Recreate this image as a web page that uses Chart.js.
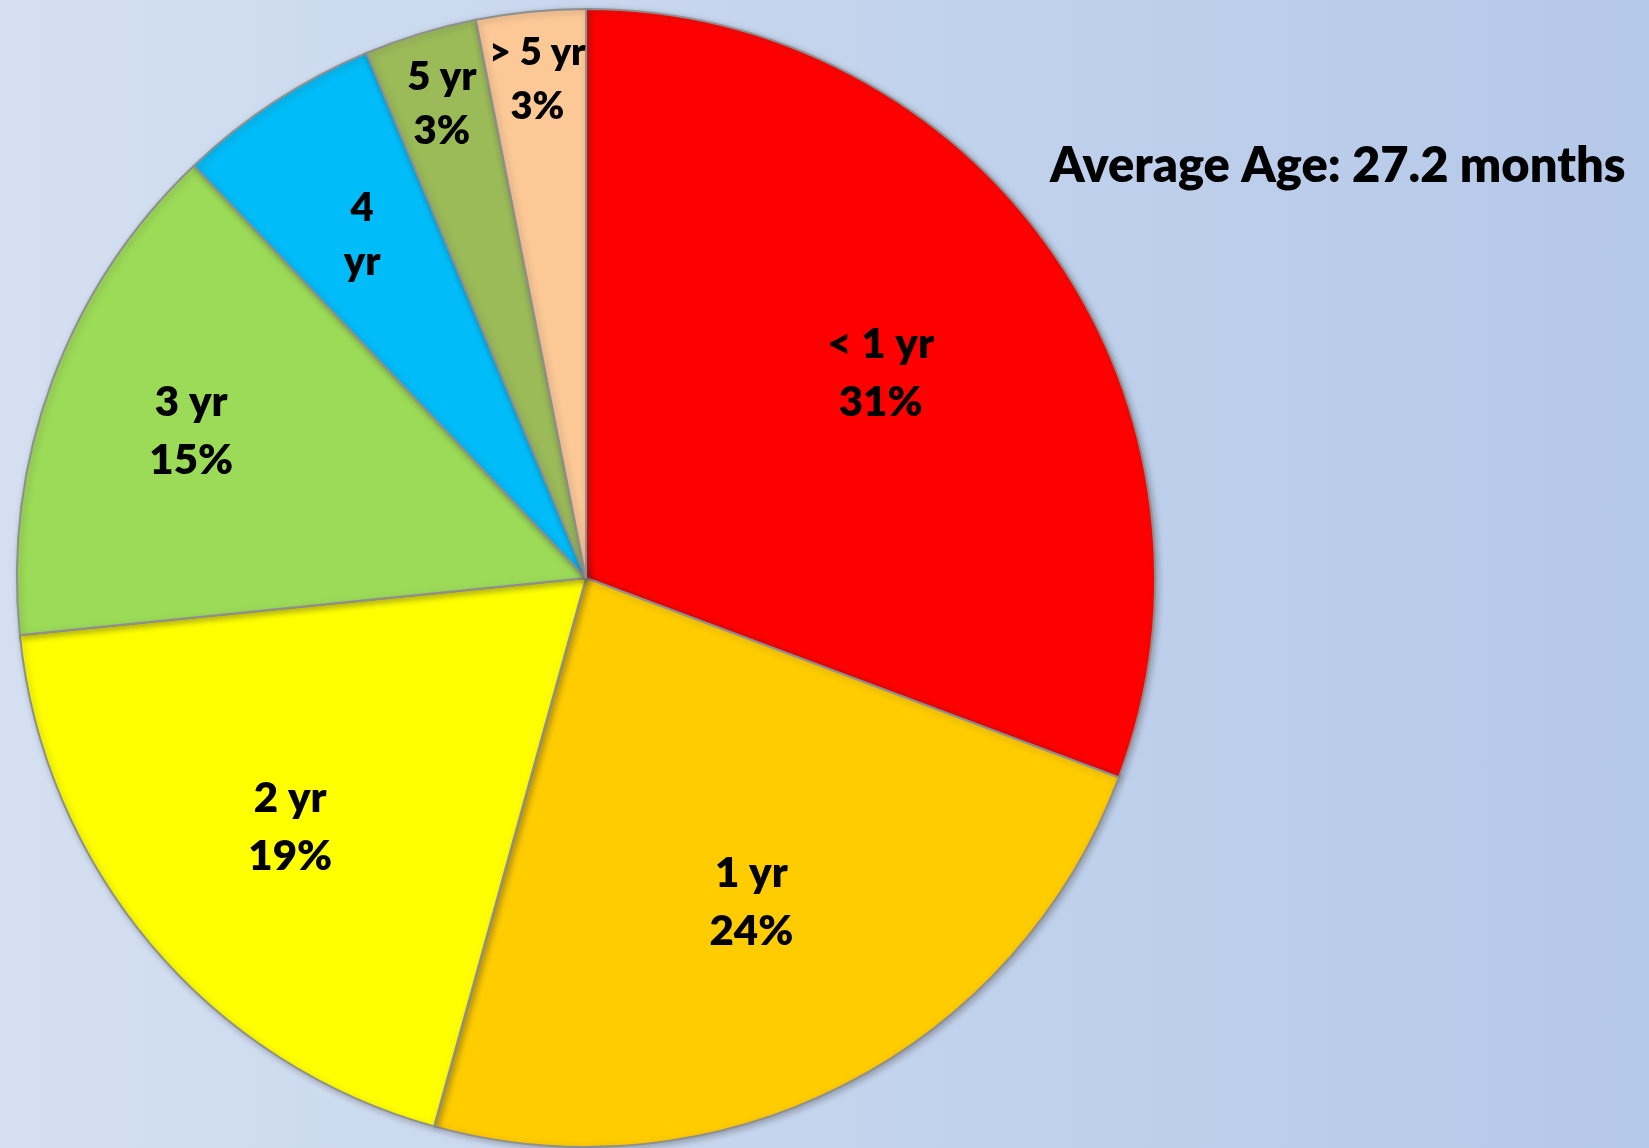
<!DOCTYPE html>
<html>
<head>
<meta charset="utf-8">
<script src="https://cdn.jsdelivr.net/npm/chart.js@4.4.1/dist/chart.umd.min.js"></script>
<style>
  html, body { margin: 0; padding: 0; }
  body {
    width: 1649px; height: 1148px; overflow: hidden;
    background: linear-gradient(to right, #d4e0f1 0%, #c4d4ed 50%, #b4c8e8 100%);
  }
  .wrap { position: relative; width: 1649px; height: 1148px; }
</style>
</head>
<body>
<div class="wrap"><canvas id="grafica" width="1649" height="1148"></canvas></div>
<script>
// datos
const categorias = ['< 1 yr', '1 yr', '2 yr', '3 yr', '4 yr', '5 yr', '> 5 yr'];
const porcentajes = [30.7, 23.6, 19.1, 14.5, 5.8, 3.2, 3.1];
const etiquetasPct = ['31%', '24%', '19%', '15%', '', '3%', '3%'];
const titulo = 'Average Age: 27.2 months';

const colores = ['#ff0000', '#ffcc00', '#ffff00', '#9cdb57', '#00bcf8', '#9bbb59', '#fcc896'];
// where each label sits, as a fraction of the radius
const radioEtiqueta = [0.63, 0.64, 0.68, 0.74, 0.72, 0.87, 0.88];

const etiquetasPlugin = {
  id: 'etiquetas',
  afterDatasetsDraw(chart) {
    const ctx = chart.ctx;
    const meta = chart.getDatasetMeta(0);
    ctx.save();
    ctx.fillStyle = '#000';
    ctx.textAlign = 'center';
    ctx.textBaseline = 'middle';
    meta.data.forEach((arc, i) => {
      const p = arc.getProps(['x', 'y', 'startAngle', 'endAngle', 'outerRadius'], true);
      const a = (p.startAngle + p.endAngle) / 2;
      const r = p.outerRadius * radioEtiqueta[i];
      const cx = p.x + Math.cos(a) * r;
      const cy = p.y + Math.sin(a) * r;
      let lineas;
      if (i === 4) {
        lineas = ['4', 'yr'];
        ctx.font = '800 40px Lato';
      } else if (i >= 5) {
        lineas = [categorias[i], etiquetasPct[i]];
        ctx.font = i === 5 ? '800 40px Lato' : '800 38px Lato';
      } else {
        lineas = [categorias[i], etiquetasPct[i]];
        ctx.font = '800 42px Lato';
      }
      const paso = i >= 4 ? 54 : 58;
      lineas.forEach((t, k) => {
        ctx.fillText(t, cx, cy + (k - (lineas.length - 1) / 2) * paso);
      });
    });
    // title text on the right, sized to the same width as the original
    ctx.font = '800 100px Lato';
    const ancho = ctx.measureText(titulo).width;
    const tam = Math.min(52, 100 * 576 / ancho);
    ctx.font = '800 ' + tam.toFixed(1) + 'px Lato';
    ctx.textAlign = 'left';
    ctx.fillText(titulo, 1050, 166);
    ctx.restore();
  }
};

const sombraPlugin = {
  id: 'sombra',
  beforeDatasetsDraw(chart) {
    const ctx = chart.ctx;
    ctx.save();
    ctx.shadowColor = 'rgba(60,60,60,0.35)';
    ctx.shadowBlur = 6;
    ctx.shadowOffsetX = 2;
    ctx.shadowOffsetY = 2;
  },
  afterDatasetsDraw(chart) {
    chart.ctx.restore();
  }
};

new Chart(document.getElementById('grafica'), {
  type: 'pie',
  data: {
    labels: categorias,
    datasets: [{
      data: porcentajes,
      backgroundColor: colores,
      borderColor: '#8f8f8f',
      borderWidth: 2
    }]
  },
  options: {
    responsive: false,
    animation: false,
    events: [],
    layout: { padding: { left: 16, right: 493, top: 8, bottom: 0 } },
    plugins: {
      legend: { display: false },
      tooltip: { enabled: false },
      title: { display: false }
    }
  },
  plugins: [sombraPlugin, etiquetasPlugin]
});
</script>
</body>
</html>
